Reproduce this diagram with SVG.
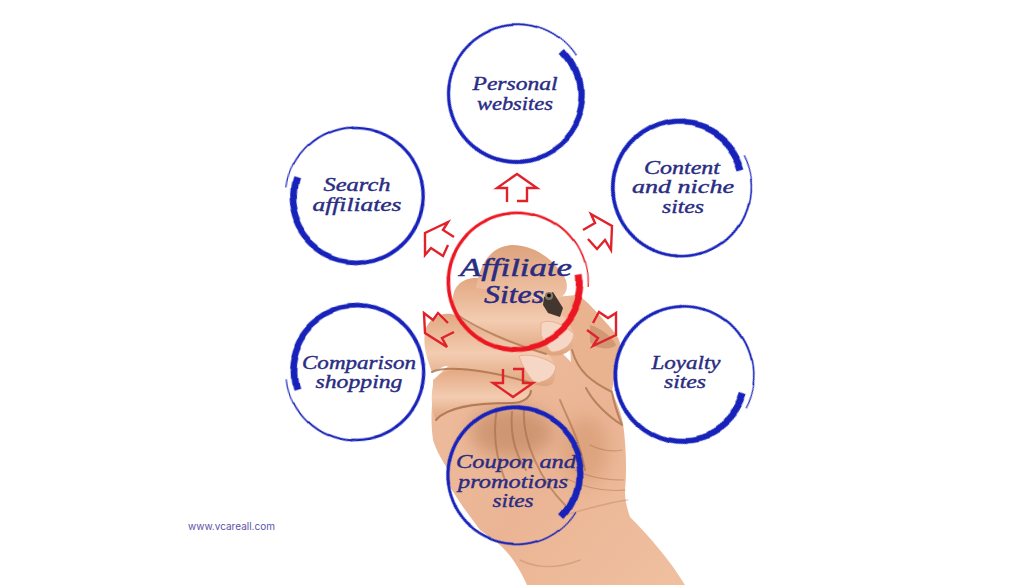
<svg xmlns="http://www.w3.org/2000/svg" width="1024" height="585" viewBox="0 0 1024 585">
<style>
.ring circle{fill:none;stroke:currentColor}
.blue{color:#1721ba}
.red{color:#ec1420}
.arrow{fill:none;stroke:#e1222a;stroke-width:2.4;stroke-linejoin:miter}
text{font-family:"Liberation Serif",serif;font-style:italic;fill:#2a2c82;text-anchor:middle;font-size:19px;stroke:#2a2c82;stroke-width:.4}
text.c{font-size:25px;stroke-width:.5}
text.url{font-family:Inter,"Liberation Sans",sans-serif;font-style:normal;font-size:10px;fill:#5d52ab;stroke:none;text-anchor:start}
.crease{fill:none;stroke:#a0663f;stroke-linecap:round}
.nail{fill:#f6d6c4;stroke:#e3a98a;stroke-width:.8}
.line{fill:none;stroke:#a9704a;stroke-width:2;stroke-linecap:round}
</style>
<defs>
<linearGradient id="skin" x1="0" y1="0" x2="1" y2="1"><stop offset="0" stop-color="#edbd9e"/><stop offset=".55" stop-color="#ebb595"/><stop offset="1" stop-color="#efc0a0"/></linearGradient>
<linearGradient id="fing" x1="0" y1="0" x2="0" y2="1"><stop offset="0" stop-color="#e3a781"/><stop offset=".55" stop-color="#f3ccb1"/><stop offset="1" stop-color="#dfa37c"/></linearGradient>
<linearGradient id="top" x1="0" y1="0" x2="0" y2="1"><stop offset="0" stop-color="#dda37d"/><stop offset="1" stop-color="#f0c4a6"/></linearGradient>
<filter id="soft" x="-5%" y="-5%" width="110%" height="110%"><feGaussianBlur stdDeviation=".6"/></filter>
<filter id="soft2" x="-60%" y="-60%" width="220%" height="220%"><feGaussianBlur stdDeviation="9"/></filter>
<filter id="crisp" x="-10%" y="-10%" width="120%" height="120%"><feGaussianBlur stdDeviation=".4"/></filter>
<g id="ring" class="ring" filter="url(#crisp)">
<circle r="72.4" stroke-width="1.2" pathLength="360" stroke-dasharray="21 400"/>
<circle r="71.8" stroke-width="1.6" pathLength="360" stroke-dasharray="21 400" stroke-dashoffset="-20"/>
<circle r="71.2" stroke-width="2" pathLength="360" stroke-dasharray="21 400" stroke-dashoffset="-40"/>
<circle r="70.65" stroke-width="2.3" pathLength="360" stroke-dasharray="21 400" stroke-dashoffset="-60"/>
<circle r="70.2" stroke-width="2.6" pathLength="360" stroke-dasharray="21 400" stroke-dashoffset="-80"/>
<circle r="70.05" stroke-width="2.9" pathLength="360" stroke-dasharray="21 400" stroke-dashoffset="-100"/>
<circle r="69.95" stroke-width="3.1" pathLength="360" stroke-dasharray="21 400" stroke-dashoffset="-120"/>
<circle r="69.85" stroke-width="3.3" pathLength="360" stroke-dasharray="21 400" stroke-dashoffset="-140"/>
<circle r="69.75" stroke-width="3.5" pathLength="360" stroke-dasharray="21 400" stroke-dashoffset="-160"/>
<circle r="69.65" stroke-width="3.7" pathLength="360" stroke-dasharray="21 400" stroke-dashoffset="-180"/>
<circle r="69.55" stroke-width="3.9" pathLength="360" stroke-dasharray="21 400" stroke-dashoffset="-200"/>
<circle r="69.45" stroke-width="4.1" pathLength="360" stroke-dasharray="21 400" stroke-dashoffset="-220"/>
<circle r="69.3" stroke-width="4.4" pathLength="360" stroke-dasharray="16 400" stroke-dashoffset="-240"/>
<circle r="68.95" stroke-width="4.7" pathLength="360" stroke-dasharray="16 400" stroke-dashoffset="-255"/>
<circle r="68.5" stroke-width="5" pathLength="360" stroke-dasharray="16 400" stroke-dashoffset="-270"/>
<circle r="67.9" stroke-width="5.4" pathLength="360" stroke-dasharray="16 400" stroke-dashoffset="-285"/>
<circle r="67.3" stroke-width="5.8" pathLength="360" stroke-dasharray="11 400" stroke-dashoffset="-300"/>
<circle r="66.65" stroke-width="6.1" pathLength="360" stroke-dasharray="11 400" stroke-dashoffset="-310"/>
<circle r="66" stroke-width="6.4" pathLength="360" stroke-dasharray="11 400" stroke-dashoffset="-320"/>
<circle r="65.3" stroke-width="6.6" pathLength="360" stroke-dasharray="11 400" stroke-dashoffset="-330"/>
<circle r="64.6" stroke-width="6.8" pathLength="360" stroke-dasharray="11 400" stroke-dashoffset="-340"/>
<circle r="63.9" stroke-width="7" pathLength="360" stroke-dasharray="10 400" stroke-dashoffset="-350"/>
<circle r="63.25" stroke-width="7.1" pathLength="360" stroke-dasharray="6 400"/>
<circle r="62.6" stroke-width="7.2" pathLength="360" stroke-dasharray="6 400" stroke-dashoffset="-5"/>
</g>
</defs>
<rect width="1024" height="585" fill="#ffffff"/>

<g id="hand">
<g filter="url(#soft)">
<path fill="url(#skin)" d="M433,395C431,412 431,425 433,440C436,450 442,460 447,468C447,478 448,482 450,487L463,507L480,530L500,545C512,556 520,570 527,585L685,585C670,560 648,535 630,517C626,505 625,498 625,490C627,470 626,445 623,423C620,410 616,400 612,392L617,355C622,345 620,340 615,333C600,315 590,305 577,295L520,300L433,380Z"/>
</g>
<ellipse cx="512" cy="432" rx="42" ry="26" fill="#b87c55" opacity=".55" filter="url(#soft2)"/>
<ellipse cx="585" cy="450" rx="24" ry="34" fill="#cf9269" opacity=".5" filter="url(#soft2)"/>
<g filter="url(#soft)">
<path class="crease" stroke-width="2" opacity=".55" d="M524,410C522,440 540,480 565,505M497,408C493,430 495,455 505,480M512,412C510,435 516,455 526,470M560,400C568,420 580,440 585,470"/>
<path class="crease" stroke-width="1.2" opacity=".4" d="M575,470C590,478 608,480 624,480M565,478C585,488 605,492 625,490M590,445C600,450 612,452 622,450"/>
<path class="crease" stroke-width="1.4" opacity=".28" d="M520,560C540,570 560,568 580,560M565,515C590,508 610,502 628,500"/>
<path fill="#e9b390" d="M577,295C585,298 600,315 617,337C622,345 622,352 615,362C610,372 608,380 612,392C595,385 575,370 572,350C568,330 572,305 570,298Z"/>
<path class="line" opacity=".75" d="M572,350C578,372 592,382 612,392C614,405 618,415 622,425M586,388C592,400 606,415 622,425"/>
<path fill="#c08560" opacity=".6" d="M590,325C600,328 612,336 616,345C612,350 596,350 590,342Z"/>
<path fill="#ffffff" d="M563,354L570,348L571,362Z"/>
<path fill="url(#fing)" d="M433,385C437,372 452,367 472,369C500,373 526,380 530,392C530,400 520,404 508,403C488,402 465,402 448,408L436,420C431,410 431,395 433,385Z"/>
<path fill="url(#fing)" d="M425,331C428,319 440,312 452,314C480,325 520,342 546,354C558,360 557,378 552,384C546,388 538,386 528,382C500,372 470,368 445,366L432,372C426,356 423,345 425,331Z"/>
<path fill="url(#fing)" d="M453,300C452,285 465,277 478,278C510,284 540,298 566,318L575,335C577,350 563,358 550,355C510,345 470,326 455,315Z"/>
<path fill="url(#top)" d="M476,288C480,262 492,246 512,245C535,245 555,260 566,280C570,295 560,300 548,300L510,292Z"/>
<path class="line" opacity=".7" d="M456,314C476,328 512,344 546,354"/>
<path class="line" opacity=".8" d="M432,372C445,366 480,368 528,382"/>
<path class="line" opacity=".85" d="M436,420C446,408 470,403 512,403C522,403 530,398 531,391"/>
<path class="nail" d="M541,323C550,318 565,325 574,334C573,345 562,352 552,352C548,350 545,343 541,335Z"/>
<path class="nail" d="M519,356C530,353 547,358 556,366C555,376 547,382 535,383C527,375 522,365 519,356Z"/>
</g>
</g>
<g id="pen">
<path fill="#43362f" d="M544,297L553,292L563,308L560,317L548,313L543,305Z"/>
<circle cx="549" cy="296" r="4" fill="#85786a"/>
<circle cx="549" cy="295.5" r="2" fill="#141010"/>
</g>

<g id="connectors">
<polyline class="arrow" points="507,202 507,188 497,188 517,174 537,188 527,188 527,201 517,201"/>
<polyline class="arrow" points="583,230 595,223 591,214 612,226 611,250 605,240 597,249 588,239"/>
<polyline class="arrow" points="454,237 443,230 448,222 425,233 425,255 431,248 443,256 448,245"/>
<polyline class="arrow" points="448,323 438,313 433,320 424,313 425,333 447,347 442,338 454,332"/>
<polyline class="arrow" points="587,330 598,338 593,346 616,335 616,313 608,318 599,312 593,323"/>
<polyline class="arrow" points="503,369 503,383 493,383 513,397 533,383 523,383 523,369 513,369"/>
</g>

<g id="node-center" class="red">
<use href="#ring" transform="translate(517 282) scale(-.985 .985) rotate(176)"/>
<text class="c" x="516" y="276" textLength="112" lengthAdjust="spacingAndGlyphs">Affiliate</text>
<text class="c" x="514" y="303" textLength="60" lengthAdjust="spacingAndGlyphs">Sites</text>
</g>
<g id="node-personal" class="blue">
<use href="#ring" transform="translate(517 94) scale(-.98 .98) rotate(213)"/>
<text x="515" y="90" textLength="85" lengthAdjust="spacingAndGlyphs">Personal</text>
<text x="515" y="110" textLength="76" lengthAdjust="spacingAndGlyphs">websites</text>
</g>
<g id="node-content" class="blue">
<use href="#ring" transform="translate(681 187.500) scale(.98) rotate(-27)"/>
<text x="682" y="174" textLength="76" lengthAdjust="spacingAndGlyphs">Content</text>
<text x="683" y="193" textLength="102" lengthAdjust="spacingAndGlyphs">and niche</text>
<text x="683" y="213" textLength="42" lengthAdjust="spacingAndGlyphs">sites</text>
</g>
<g id="node-loyalty" class="blue">
<use href="#ring" transform="translate(683.500 375) scale(-.98 .98) rotate(152)"/>
<text x="686" y="369" textLength="69" lengthAdjust="spacingAndGlyphs">Loyalty</text>
<text x="685" y="388" textLength="42" lengthAdjust="spacingAndGlyphs">sites</text>
</g>
<g id="node-coupon" class="blue">
<use href="#ring" transform="translate(516 475) scale(.975) rotate(32)"/>
<text x="516" y="468" textLength="120" lengthAdjust="spacingAndGlyphs">Coupon and</text>
<text x="513" y="488" textLength="110" lengthAdjust="spacingAndGlyphs">promotions</text>
<text x="513" y="507" textLength="41" lengthAdjust="spacingAndGlyphs">sites</text>
</g>
<g id="node-comparison" class="blue">
<use href="#ring" transform="translate(356 372) scale(-.97 .97) rotate(6)"/>
<text x="359" y="369" textLength="114" lengthAdjust="spacingAndGlyphs">Comparison</text>
<text x="359" y="388" textLength="87" lengthAdjust="spacingAndGlyphs">shopping</text>
</g>
<g id="node-search" class="blue">
<use href="#ring" transform="translate(355.500 196) scale(.97) rotate(187)"/>
<text x="357" y="191" textLength="67" lengthAdjust="spacingAndGlyphs">Search</text>
<text x="357" y="211" textLength="89" lengthAdjust="spacingAndGlyphs">affiliates</text>
</g>
<text class="url" x="188" y="530" textLength="87">www.vcareall.com</text>
</svg>
